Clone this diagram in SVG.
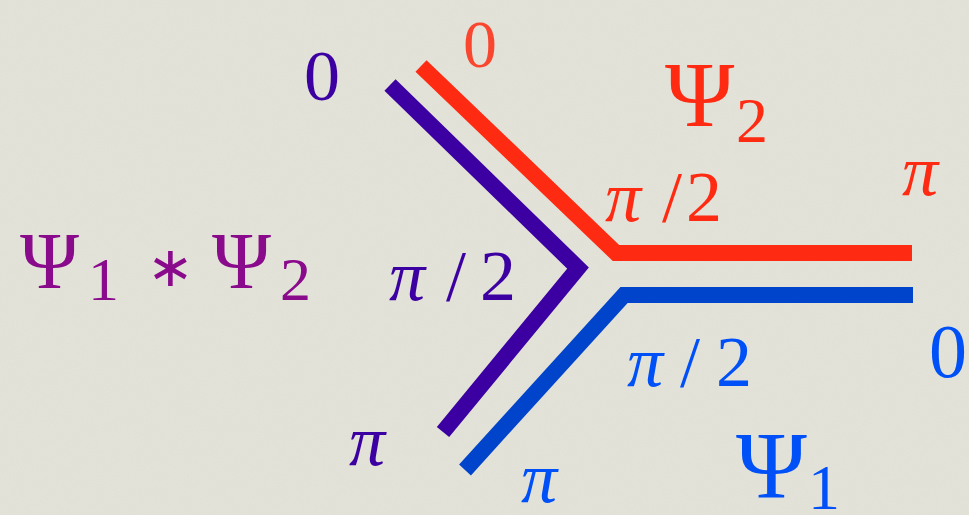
<svg xmlns="http://www.w3.org/2000/svg" width="969" height="515" viewBox="0 0 969 515">
<style>
text{font-family:"Liberation Serif","Times New Roman",serif;}
.it{font-style:italic;}
.ln{fill:none;stroke-width:16;stroke-linecap:butt;stroke-linejoin:miter;}
.pu{fill:#3c00a2;} .rd{fill:#ff2a12;} .bl{fill:#0050f8;} .mg{fill:#8a0a8c;}
.ast{font-family:"DejaVu Sans",sans-serif;}
</style>
<defs>
<filter id="tex" x="0" y="0" width="100%" height="100%">
<feTurbulence type="fractalNoise" baseFrequency="0.9" numOctaves="2" seed="3" result="n"/>
<feColorMatrix type="matrix" values="0 0 0 0 0.5  0 0 0 0 0.5  0 0 0 0 0.45  0 0 0 0.12 0" in="n"/>
</filter>
</defs>
<rect width="969" height="515" fill="#e4e4da"/>
<rect width="969" height="515" filter="url(#tex)"/>
<g id="connectors">
<polyline id="purple-line" class="ln" stroke="#3c00a2" points="390,85 578,268 443,432"/>
<polyline id="red-line" class="ln" stroke="#ff2a12" points="421,66 616,253 912,253"/>
<polyline id="blue-line" class="ln" stroke="#0044cc" points="465,470 624,295 913,295"/>
</g>
<g id="labels-purple">
<text class="pu" x="304" y="100" font-size="72">0</text>
<text class="pu" y="300" font-size="72"><tspan class="it" x="389">π</tspan><tspan x="446">/</tspan><tspan x="480">2</tspan></text>
<text class="pu" x="349" y="465" font-size="72" font-style="italic">π</text>
</g>
<g id="label-product">
<text class="mg" font-size="80"><tspan x="20" y="288">Ψ</tspan><tspan x="88" y="300" font-size="62">1</tspan><tspan class="ast" x="147" y="286" font-size="56">∗</tspan><tspan x="212" y="288">Ψ</tspan><tspan x="280" y="300" font-size="62">2</tspan></text>
</g>
<g id="labels-red">
<text class="rd" x="463" y="67" font-size="68" fill-opacity="0.85">0</text>
<text class="rd" font-size="94"><tspan x="665" y="126">Ψ</tspan><tspan x="736" y="142" font-size="64">2</tspan></text>
<text class="rd" y="221" font-size="72"><tspan class="it" x="605">π</tspan><tspan x="662">/</tspan><tspan x="686">2</tspan></text>
<text class="rd" x="902" y="195" font-size="72" font-style="italic">π</text>
</g>
<g id="labels-blue">
<text class="bl" y="386" font-size="72"><tspan class="it" x="627">π</tspan><tspan x="680">/</tspan><tspan x="716">2</tspan></text>
<text class="bl" x="929" y="377" font-size="76">0</text>
<text class="bl" x="521" y="502" font-size="72" font-style="italic">π</text>
<text class="bl" font-size="96" fill="#0a3ae0"><tspan x="736" y="498">Ψ</tspan><tspan x="808" y="509" font-size="64">1</tspan></text>
</g>
</svg>
